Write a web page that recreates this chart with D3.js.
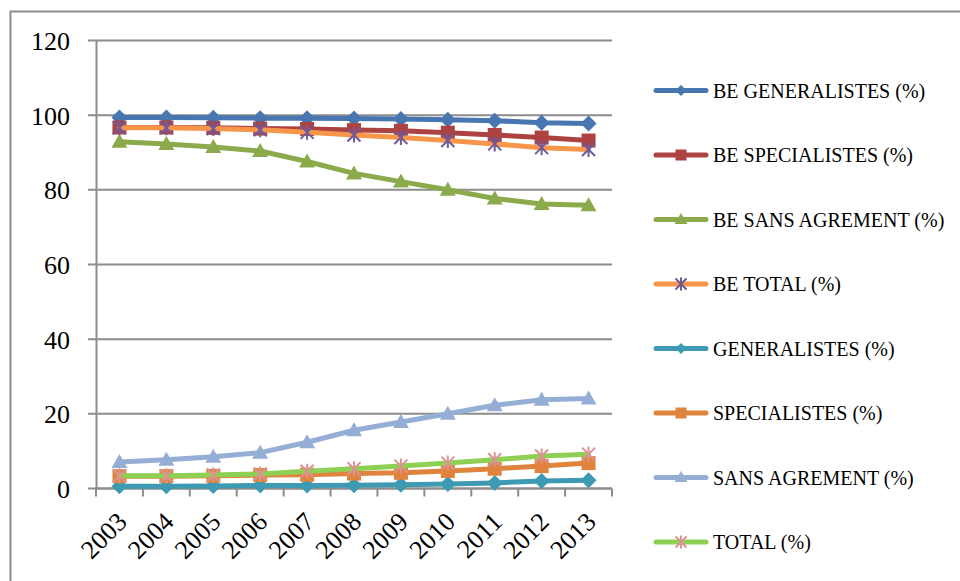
<!DOCTYPE html>
<html>
<head>
<meta charset="utf-8">
<script src="https://cdn.jsdelivr.net/npm/d3@7"></script>
<style>
  body { margin: 0; background: #fff; }
  svg text { font-family: "Liberation Serif", "DejaVu Serif", serif; fill: #000; }
</style>
</head>
<body>
<svg id="chart" width="960" height="581"></svg>
<script>
// years on the x axis
var years = ["2003","2004","2005","2006","2007","2008","2009","2010","2011","2012","2013"];
var yTicks = [0, 20, 40, 60, 80, 100, 120];

// series values (%)
var beGeneralistes  = [99.4, 99.4, 99.3, 99.2, 99.2, 99.1, 99.0, 98.8, 98.5, 98.0, 97.8];
var beSpecialistes  = [96.7, 96.7, 96.6, 96.4, 96.3, 96.0, 95.8, 95.3, 94.7, 94.0, 93.2];
var beSansAgrement  = [92.9, 92.3, 91.5, 90.4, 87.6, 84.4, 82.2, 80.0, 77.7, 76.2, 75.9];
var beTotal         = [96.6, 96.6, 96.4, 96.1, 95.4, 94.7, 94.0, 93.2, 92.3, 91.3, 90.8];
var generalistes    = [0.6, 0.6, 0.7, 0.8, 0.8, 0.9, 1.0, 1.2, 1.5, 2.0, 2.2];
var specialistes    = [3.3, 3.3, 3.4, 3.6, 3.7, 4.0, 4.2, 4.7, 5.3, 6.0, 6.8];
var sansAgrement    = [7.1, 7.7, 8.5, 9.6, 12.4, 15.6, 17.8, 20.0, 22.3, 23.8, 24.1];
var total           = [3.4, 3.4, 3.6, 3.9, 4.6, 5.3, 6.0, 6.8, 7.7, 8.7, 9.2];

var seriesNames = ["BE GENERALISTES (%)", "BE SPECIALISTES (%)", "BE SANS AGREMENT (%)", "BE TOTAL (%)",
                   "GENERALISTES (%)", "SPECIALISTES (%)", "SANS AGREMENT (%)", "TOTAL (%)"];

var series = [
  {name: seriesNames[0], values: beGeneralistes, line: "#4776B0", mark: "#4776B0", shape: "diamond"},
  {name: seriesNames[1], values: beSpecialistes, line: "#AD4340", mark: "#AD4340", shape: "square"},
  {name: seriesNames[2], values: beSansAgrement, line: "#8AAA4C", mark: "#8AAA4C", shape: "triangle"},
  {name: seriesNames[3], values: beTotal, line: "#F7964A", mark: "#71599A", shape: "star"},
  {name: seriesNames[4], values: generalistes, line: "#3E9AB2", mark: "#3E9AB2", shape: "diamond"},
  {name: seriesNames[5], values: specialistes, line: "#E0843D", mark: "#E0843D", shape: "square"},
  {name: seriesNames[6], values: sansAgrement, line: "#95AED5", mark: "#95AED5", shape: "triangle"},
  {name: seriesNames[7], values: total, line: "#8ED053", mark: "#DB9393", shape: "star"}
];

var svg = d3.select("#chart");

// chart area border (runs off the right and bottom of the picture)
svg.append("rect")
  .attr("x", 10.5).attr("y", 11.5)
  .attr("width", 1000).attr("height", 1000)
  .attr("fill", "none").attr("stroke", "#8c8c8c").attr("stroke-width", 2);

var plotLeft = 96, plotRight = 612, plotTop = 40.5, plotBottom = 488.5;

var x = d3.scaleBand().domain(years).range([plotLeft, plotRight]);
var y = d3.scaleLinear().domain([0, 120]).range([plotBottom, plotTop]);
var cx = function(i) { return x(years[i]) + x.bandwidth() / 2; };

// gridlines
svg.append("g")
  .selectAll("line")
  .data(yTicks)
  .enter()
  .append("line")
  .attr("x1", plotLeft - 8).attr("x2", plotRight)
  .attr("y1", d => y(d)).attr("y2", d => y(d))
  .attr("stroke", "#8c8c8c").attr("stroke-width", 2);

// y axis
var yAxis = svg.append("g")
  .attr("transform", "translate(" + plotLeft + ",0)")
  .call(d3.axisLeft(y).tickValues(yTicks).tickSize(0).tickPadding(26));
yAxis.select(".domain").attr("stroke", "#8c8c8c").attr("stroke-width", 2);
yAxis.selectAll("text")
  .style("font-family", "Liberation Serif, serif")
  .style("font-size", "26px")
  .attr("dy", "0.35em");

// x axis line and tick marks between categories
svg.append("line")
  .attr("x1", plotLeft).attr("x2", plotRight).attr("y1", plotBottom).attr("y2", plotBottom)
  .attr("stroke", "#8c8c8c").attr("stroke-width", 2);
var tickPos = years.map(d => x(d)).concat([plotRight]);
svg.append("g")
  .selectAll("line")
  .data(tickPos)
  .enter()
  .append("line")
  .attr("x1", d => d).attr("x2", d => d)
  .attr("y1", plotBottom).attr("y2", plotBottom + 8)
  .attr("stroke", "#8c8c8c").attr("stroke-width", 2);

svg.append("g")
  .selectAll("text")
  .data(years)
  .enter()
  .append("text")
  .attr("transform", (d, i) => "translate(" + (cx(i) - 4) + "," + (plotBottom + 22) + ") rotate(-45)")
  .attr("text-anchor", "end")
  .attr("dy", "0.7em")
  .style("font-size", "26px")
  .text(d => d);

// markers
function marker(g, shape, color, s) {
  if (shape == "diamond") {
    g.append("path").attr("d", "M0,-" + s + "L" + s + ",0L0," + s + "L-" + s + ",0Z").attr("fill", color);
  } else if (shape == "square") {
    g.append("rect").attr("x", -s).attr("y", -s).attr("width", 2 * s).attr("height", 2 * s).attr("fill", color);
  } else if (shape == "triangle") {
    g.append("path").attr("d", "M0,-" + (s + 1) + "L" + (s + 1) + "," + (s - 1) + "L-" + (s + 1) + "," + (s - 1) + "Z").attr("fill", color);
  } else {
    g.append("path")
      .attr("d", "M-" + s + ",-" + s + "L" + s + "," + s + "M" + s + ",-" + s + "L-" + s + "," + s + "M0,-" + (s + 1) + "L0," + (s + 1))
      .attr("stroke", color).attr("stroke-width", 2).attr("fill", "none");
  }
}

var markSize = {diamond: 8, square: 7, triangle: 7, star: 6.5};

var line = d3.line()
  .x((d, i) => cx(i))
  .y(d => y(d));

series.forEach(function(s) {
  var g = svg.append("g");
  g.append("path")
    .attr("d", line(s.values))
    .attr("fill", "none")
    .attr("stroke", s.line)
    .attr("stroke-width", 5)
    .attr("stroke-linejoin", "round")
    .attr("stroke-linecap", "round");
  s.values.forEach(function(v, i) {
    var m = g.append("g")
      .attr("transform", "translate(" + cx(i) + "," + y(v) + ")");
    marker(m, s.shape, s.mark, markSize[s.shape]);
  });
});

// legend
var legend = svg.append("g");
series.forEach(function(s, i) {
  var ly = 90.5 + i * 64.5;
  var row = legend.append("g").attr("transform", "translate(0," + ly + ")");
  row.append("line")
    .attr("x1", 656).attr("x2", 706).attr("y1", 0).attr("y2", 0)
    .attr("stroke", s.line).attr("stroke-width", 5).attr("stroke-linecap", "round");
  var m = row.append("g").attr("transform", "translate(681,0)");
  marker(m, s.shape, s.mark, s.shape == "triangle" ? 5.5 : 5.5);
  row.append("text")
    .attr("x", 713).attr("y", 0).attr("dy", "0.35em")
    .style("font-size", "20px")
    .text(s.name);
});
</script>
</body>
</html>
